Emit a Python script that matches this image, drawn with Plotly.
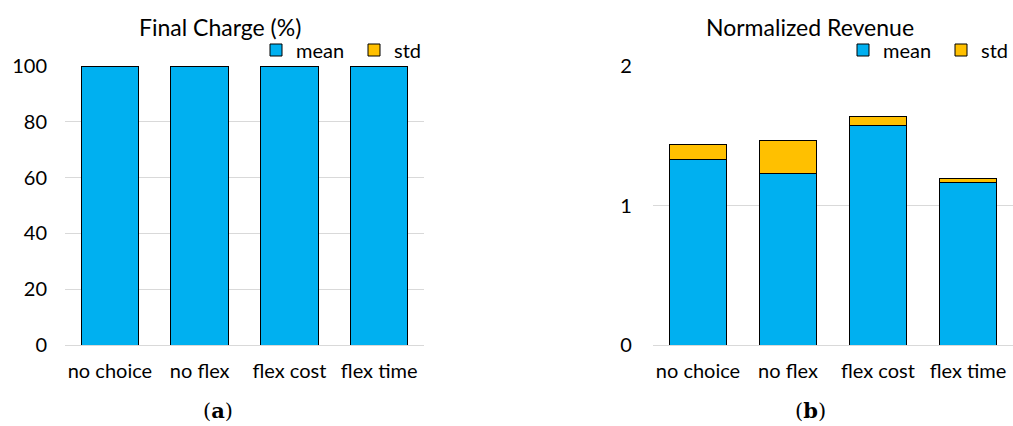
import plotly.graph_objects as go

# Scenario categories shared by both panels
categories = ["no choice", "no flex", "flex cost", "flex time"]

# Panel (a): final charge (%)
charge_mean = [100, 100, 100, 100]
charge_std = [0, 0, 0, 0]

# Panel (b): normalized revenue
revenue_mean = [1.333, 1.233, 1.574, 1.162]
revenue_std = [0.105, 0.236, 0.064, 0.031]

charge_ticks = [0, 20, 40, 60, 80, 100]
revenue_ticks = [0, 1, 2]

BLUE = "#00B0F0"
GOLD = "#FFC000"
GRID = "#D9D9D9"
FONT = "Lato"

fig = go.Figure()


def add_panel(means, stds, xa, ya, legend_name):
    fig.add_trace(go.Bar(
        x=categories, y=means, name="mean", xaxis=xa, yaxis=ya,
        marker=dict(color=BLUE, line=dict(color="black", width=1)),
        legend=legend_name,
    ))
    fig.add_trace(go.Bar(
        x=categories, y=stds, name="std", xaxis=xa, yaxis=ya,
        marker=dict(color=GOLD, line=dict(color="black", width=1)),
        legend=legend_name,
    ))


add_panel(charge_mean, charge_std, "x", "y", "legend")
add_panel(revenue_mean, revenue_std, "x2", "y2", "legend2")

tick_font = dict(family=FONT, size=20, color="black")
ydom = [0.19, 0.845]

xcommon = dict(
    showgrid=False, showline=True, linecolor=GRID, linewidth=1,
    ticks="", tickfont=tick_font, ticklabelstandoff=8, automargin=False,
)
ycommon = dict(
    showgrid=True, gridcolor=GRID, gridwidth=1, zeroline=False,
    showline=False, ticks="", tickfont=tick_font, automargin=False,
)

legend_common = dict(
    orientation="h", xanchor="left", yanchor="middle",
    font=dict(family=FONT, size=20, color="black"),
    bgcolor="rgba(0,0,0,0)", traceorder="normal",
    entrywidth=53, entrywidthmode="pixels",
    itemwidth=30,
)

fig.update_layout(
    width=1013, height=426,
    margin=dict(l=0, r=0, t=0, b=0, autoexpand=False),
    paper_bgcolor="white", plot_bgcolor="white",
    barmode="stack", bargap=0.36,
    font=dict(family=FONT, color="black"),
    xaxis=dict(domain=[0.0642, 0.4186], anchor="y", **xcommon),
    yaxis=dict(domain=ydom, anchor="x", range=[0, 100], tickvals=charge_ticks,
               ticklabelstandoff=17, **ycommon),
    xaxis2=dict(domain=[0.6446, 1.0], anchor="y2", **xcommon),
    yaxis2=dict(domain=ydom, anchor="x2", range=[0, 2], tickvals=revenue_ticks,
                ticklabelstandoff=20, **ycommon),
    legend=dict(x=256 / 1013, y=1 - 50 / 426, **legend_common),
    legend2=dict(x=843 / 1013, y=1 - 50 / 426, **legend_common),
    annotations=[
        dict(text="Final Charge (%)", x=220 / 1013, y=1 - 27 / 426,
             xref="paper", yref="paper", showarrow=False,
             xanchor="center", yanchor="middle",
             font=dict(family=FONT, size=23, color="black")),
        dict(text="Normalized Revenue", x=810 / 1013, y=1 - 27 / 426,
             xref="paper", yref="paper", showarrow=False,
             xanchor="center", yanchor="middle",
             font=dict(family=FONT, size=23, color="black")),
        dict(text="(<b>a</b>)", x=218 / 1013, y=1 - 410 / 426,
             xref="paper", yref="paper", showarrow=False,
             xanchor="center", yanchor="middle",
             font=dict(family="DejaVu Serif", size=21, color="black")),
        dict(text="(<b>b</b>)", x=810 / 1013, y=1 - 410 / 426,
             xref="paper", yref="paper", showarrow=False,
             xanchor="center", yanchor="middle",
             font=dict(family="DejaVu Serif", size=21, color="black")),
    ],
)

fig.write_html("out.html")
